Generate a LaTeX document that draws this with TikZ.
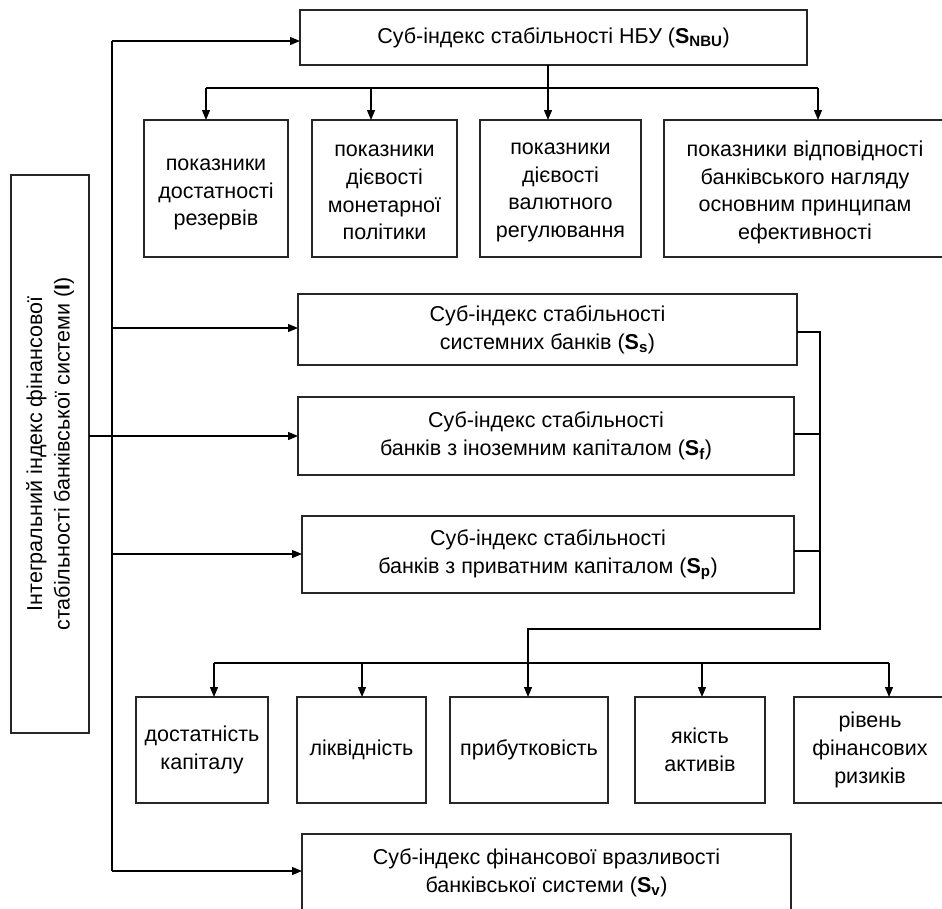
\documentclass[tikz,border=0pt]{standalone}
\usepackage{fontspec}
\setmainfont{Liberation Sans}
\usetikzlibrary{arrows.meta}
\newcommand\subidx[1]{\textbf{S}\textsubscript{\bfseries #1}}
\begin{document}
\begin{tikzpicture}[x=1pt,y=-1pt,
  box/.style={draw=black!85, line width=1.4pt, inner sep=0pt, outer sep=0pt, align=center,
    font=\fontsize{21.5}{27.7}\selectfont},
  rowlbl/.style={align=center, inner sep=0pt, font=\fontsize{21.5}{27.7}\selectfont},
  conn/.style={line width=1.6pt},
  conn2/.style={line width=2pt},
  bus/.style={line width=2.8pt},
  arr/.style={line width=1.2pt, -{Triangle[length=10pt,width=8pt]}}]
\useasboundingbox[fill=white] (0,0) rectangle (942,908);

% nodes
\node[box, minimum width=507pt, minimum height=55pt] (top) at (553.5,37.5) {Суб-індекс стабільності НБУ (\subidx{NBU})};
\node[box, minimum width=144pt, minimum height=137pt,
  label={[rowlbl, yshift=-6pt]center:{показники\\достатності\\резервів}}] (n1) at (216,188.5) {};
\node[box, minimum width=145pt, minimum height=137pt,
  label={[rowlbl, yshift=-4pt]center:{показники\\дієвості\\монетарної\\політики}}] (n2) at (384.5,188.5) {};
\node[box, minimum width=161pt, minimum height=137pt,
  label={[rowlbl, yshift=-4pt]center:{показники\\дієвості\\валютного\\регулювання}}] (n3) at (560.5,188.5) {};
\node[box, minimum width=282pt, minimum height=137pt,
  label={[rowlbl, yshift=-4pt]center:{показники відповідності\\банківського нагляду\\основним принципам\\ефективності}}] (n4) at (805,188.5) {};

\node[box, minimum width=78pt, minimum height=558pt] (left) at (50,454) {};
\node[rotate=90, align=center, inner sep=0pt, font=\fontsize{21.5}{27.5}\selectfont] (lefttext) at (left.center) {Інтегральний індекс фінансової\\стабільності банківської системи (\textbf{I})};

\node[box, minimum width=499pt, minimum height=71pt] (ss) at (547.5,329.5) {Суб-індекс стабільності\\системних банків (\subidx{s})};
\node[box, minimum width=496pt, minimum height=78pt] (sf) at (546,436) {Суб-індекс стабільності\\банків з іноземним капіталом (\subidx{f})};
\node[box, minimum width=492pt, minimum height=77pt] (sp) at (548,554.5) {Суб-індекс стабільності\\банків з приватним капіталом (\subidx{p})};

\node[box, minimum width=132pt, minimum height=106pt] (m1) at (202,750) {достатність\\капіталу};
\node[box, minimum width=129pt, minimum height=106pt] (m2) at (361.5,750) {ліквідність};
\node[box, minimum width=158pt, minimum height=106pt] (m3) at (529,750) {прибутковість};
\node[box, minimum width=130pt, minimum height=106pt] (m4) at (700,750) {якість\\активів};
\node[box, minimum width=152pt, minimum height=106pt] (m5) at (870,750) {рівень\\фінансових\\ризиків};

\node[box, minimum width=489pt, minimum height=78pt] (sv) at (546.5,873) {Суб-індекс фінансової вразливості\\банківської системи (\subidx{v})};

% left spine
\coordinate (vTop) at (112,41);
\coordinate (vS) at (112,328);
\coordinate (vF) at (112,436);
\coordinate (vP) at (112,554);
\coordinate (vV) at (112,871);
\draw[conn] (vTop) -- (vV);
\draw[arr] (vTop) -- (vTop -| top.west);
\draw[arr] (vS) -- (vS -| ss.west);
\draw[conn] (left.east |- vF) -- (vF);
\draw[arr] (vF) -- (vF -| sf.west);
\draw[arr] (vP) -- (vP -| sp.west);
\draw[arr] (vV) -- (vV -| sv.west);

% top bus
\coordinate (b1) at (206,88);
\coordinate (b2) at (371,88);
\coordinate (b3) at (548,88);
\coordinate (b4) at (818,88);
\draw[bus] (b3 |- top.south) -- (b3);
\draw[bus] (b1) -- (b4);
\draw[arr] (b1) -- (b1 |- n1.north);
\draw[arr] (b2) -- (b2 |- n2.north);
\draw[arr] (b3) -- (b3 |- n3.north);
\draw[arr] (b4) -- (b4 |- n4.north);

% right bracket
\coordinate (rS) at (820,332);
\coordinate (rF) at (820,434);
\coordinate (rP) at (820,551);
\coordinate (rB) at (820,629);
\coordinate (kB) at (528,629);
\coordinate (c1) at (214,663);
\coordinate (c2) at (362,663);
\coordinate (c3) at (528,663);
\coordinate (c4) at (702,663);
\coordinate (c5) at (889,663);
\draw[conn2] (ss.east |- rS) -- (rS) -- (rB) -- (kB) -- (c3);
\draw[conn2] (sf.east |- rF) -- (rF);
\draw[conn2] (sp.east |- rP) -- (rP);
\draw[bus] (c1) -- (c5);
\draw[arr] (c1) -- (c1 |- m1.north);
\draw[arr] (c2) -- (c2 |- m2.north);
\draw[arr] (c3) -- (c3 |- m3.north);
\draw[arr] (c4) -- (c4 |- m4.north);
\draw[arr] (c5) -- (c5 |- m5.north);
\end{tikzpicture}
\end{document}
